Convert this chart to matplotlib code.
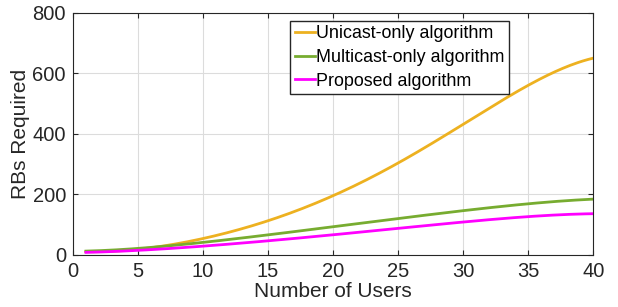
import numpy as np
import matplotlib.pyplot as plt

plt.rcParams['font.family'] = ['Liberation Sans', 'DejaVu Sans']

# data
users = [1, 5, 10, 15, 20, 25, 30, 35, 40]
unicast = [10, 20, 52, 112, 198, 303, 430, 562, 650]
multicast = [12, 22, 40, 66, 94, 119, 146, 169, 184]
proposed = [8, 15, 28, 47, 66, 87, 109, 126, 136]

fig, ax = plt.subplots(figsize=(6.18, 3.07), dpi=100)
fig.subplots_adjust(left=0.118, right=0.96, top=0.958, bottom=0.17)

# smooth the curves through the read points
xs = np.linspace(1, 40, 200)
for yv, col, lab in [(unicast, '#EDB120', 'Unicast-only algorithm'),
                     (multicast, '#77AC30', 'Multicast-only algorithm'),
                     (proposed, '#FF00FF', 'Proposed algorithm')]:
    coef = np.polyfit(users, yv, 5)
    ax.plot(xs, np.polyval(coef, xs), color=col, lw=2, label=lab)

ax.set_xlim(0, 40)
ax.set_ylim(0, 800)
ax.set_xticks(range(0, 41, 5))
ax.set_yticks(range(0, 801, 200))
ax.grid(True, color='#dcdcdc', lw=0.8)
ax.tick_params(direction='in', top=True, right=True, labelsize=14.5,
               colors='#262626', pad=5)
for s in ax.spines.values():
    s.set_color('#262626')
ax.set_xlabel('Number of Users', fontsize=15, color='#262626', labelpad=1)
ax.set_ylabel('RBs Required', fontsize=15, color='#262626', labelpad=2)

leg = ax.legend(loc='upper left', bbox_to_anchor=(0.418, 0.968), fontsize=12.9,
                handlelength=1.1, handletextpad=0.1, borderpad=0.25,
                labelspacing=0.38, borderaxespad=0, fancybox=False, framealpha=1)
leg.get_frame().set_edgecolor('#262626')
leg.get_frame().set_linewidth(1.0)

plt.savefig('out.png', dpi=100)
